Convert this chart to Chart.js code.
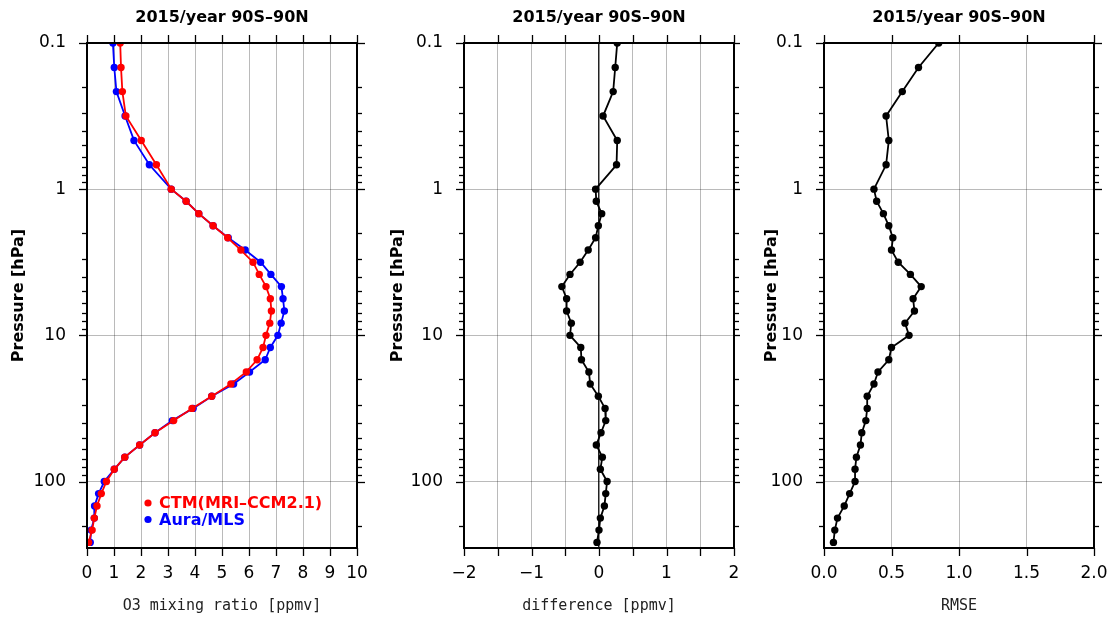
<!DOCTYPE html>
<html><head><meta charset="utf-8">
<script src="https://cdn.jsdelivr.net/npm/chart.js@4.4.1/dist/chart.umd.min.js"></script>
<style>
html,body{margin:0;padding:0;background:#fff;}
#wrap{position:relative;width:1112px;height:617px;overflow:hidden;background:#fff}
.pane{position:absolute;top:0;height:617px}
</style></head><body>
<div id="wrap">
<div class="pane" style="left:0;width:370px"><canvas id="c1"></canvas></div>
<div class="pane" style="left:370px;width:370px"><canvas id="c2"></canvas></div>
<div class="pane" style="left:740px;width:372px"><canvas id="c3"></canvas></div>
</div>
<script>
// ---- data ----
const pressure = [0.1,0.147,0.215,0.316,0.464,0.681,1,1.21,1.47,1.78,2.15,2.61,3.16,3.83,4.64,5.62,6.81,8.25,10,12.1,14.7,17.8,21.5,26.1,31.6,38.3,46.4,56.2,68.1,82.5,100,121,147,178,215,261];
const ctm = [1.23,1.26,1.31,1.44,2.01,2.57,3.12,3.67,4.14,4.67,5.21,5.70,6.15,6.38,6.63,6.79,6.83,6.77,6.63,6.52,6.30,5.90,5.33,4.62,3.89,3.21,2.52,1.95,1.40,1.01,0.72,0.53,0.37,0.27,0.19,0.06];
const mls = [0.96,1.01,1.09,1.41,1.74,2.31,3.12,3.67,4.14,4.67,5.23,5.86,6.43,6.81,7.20,7.26,7.31,7.19,7.07,6.79,6.60,6.02,5.43,4.62,3.93,3.16,2.52,1.95,1.40,1.01,0.64,0.43,0.28,0.27,0.15,0.12];
const diff = [0.27,0.24,0.21,0.06,0.27,0.26,-0.05,-0.04,0.04,-0.01,-0.05,-0.16,-0.28,-0.43,-0.55,-0.48,-0.48,-0.41,-0.43,-0.27,-0.26,-0.15,-0.13,-0.01,0.09,0.10,0.03,-0.04,0.05,0.02,0.12,0.10,0.08,0.02,0.00,-0.03];
const rmse = [0.85,0.70,0.58,0.46,0.48,0.46,0.37,0.39,0.44,0.48,0.51,0.50,0.55,0.64,0.72,0.66,0.67,0.60,0.63,0.50,0.48,0.40,0.37,0.32,0.32,0.31,0.28,0.27,0.24,0.23,0.23,0.19,0.15,0.10,0.08,0.07];
const yTicks = [0.1, 1, 10, 100];
const yRange = [0.1, 285];
const panelTitle = '2015/year 90S\u201390N';
const seriesLabels = ['CTM(MRI\u2013CCM2.1)', 'Aura/MLS', 'difference', 'RMSE'];
const xTitles = ['O3 mixing ratio [ppmv]', 'difference [ppmv]', 'RMSE'];
const yTitle = 'Pressure [hPa]';
const x1Ticks = {min:0, max:10, step:1};
const x2Ticks = {min:-2, max:2, step:0.5};
const x3Ticks = {min:0, max:2, step:0.5};

const pts = (vals) => vals.map((v, i) => ({x: v, y: pressure[i]}));

// ---- frame / ticks / title / legend plugin ----
const framePlugin = {
  id: 'frame',
  afterDraw(chart, args, o) {
    const {ctx, chartArea: a, scales: {x, y}} = chart;
    ctx.save();
    ctx.strokeStyle = '#000';
    ctx.lineWidth = 1.3;
    const seg = (x1, y1, x2, y2) => { ctx.beginPath(); ctx.moveTo(x1, y1); ctx.lineTo(x2, y2); ctx.stroke(); };
    for (let v = o.xMin; v <= o.xMax + 1e-9; v += o.xStep) {
      const px = Math.round(x.getPixelForValue(v)) + 0.5;
      seg(px, a.top - 8, px, a.top);
      seg(px, a.bottom, px, a.bottom + 8);
    }
    for (const d of yTicks) {
      for (let k = 1; k <= 9; k++) {
        const v = d * k;
        if (v < yRange[0] - 1e-12 || v > yRange[1]) continue;
        const py = Math.round(y.getPixelForValue(v)) + 0.5;
        const len = k === 1 ? 8 : 5;
        seg(a.left - len, py, a.left, py);
        seg(a.right, py, a.right + len, py);
      }
    }
    ctx.lineWidth = 2;
    ctx.strokeRect(Math.round(a.left), Math.round(a.top), Math.round(a.right - a.left), Math.round(a.bottom - a.top));
    ctx.fillStyle = '#000';
    ctx.font = 'bold 16px "DejaVu Sans"';
    ctx.textAlign = 'center';
    ctx.textBaseline = 'middle';
    ctx.fillText(o.title, (a.left + a.right) / 2, a.top - 25);
    if (o.legend) {
      ctx.textAlign = 'left';
      ctx.font = 'bold 16px "DejaVu Sans"';
      chart.data.datasets.forEach((ds, i) => {
        const ly = a.bottom - 45 + i * 16.5;
        ctx.fillStyle = ds.borderColor;
        ctx.beginPath(); ctx.arc(a.left + 61, ly, 3.6, 0, Math.PI * 2); ctx.fill();
        ctx.fillText(ds.label, a.left + 72, ly + 1);
      });
    }
    ctx.restore();
  }
};

const tickFont = {family: 'DejaVu Sans', size: 17};
const gridGray = 'rgba(0,0,0,0.27)';

function makeChart(id, datasets, xt, xTitle, yWidth, padRight, yTitlePad, fmt, zeroLine, legend) {
  return new Chart(document.getElementById(id), {
    type: 'scatter',
    data: {datasets},
    options: {
      responsive: true, maintainAspectRatio: false, animation: false,
      layout: {padding: {left: 0, right: padRight, top: 43, bottom: 0}},
      plugins: {
        legend: {display: false}, tooltip: {enabled: false},
        frame: {xMin: xt.min, xMax: xt.max, xStep: xt.step, title: panelTitle, legend}
      },
      scales: {
        x: {
          type: 'linear', min: xt.min, max: xt.max,
          afterFit: s => { s.height = 69; s.paddingLeft = 0; s.paddingRight = 0; },
          ticks: {stepSize: xt.step, autoSkip: false, maxRotation: 0, minRotation: 0,
                  font: tickFont, color: '#000', padding: 15, callback: fmt},
          grid: {drawTicks: false,
                 color: c => (zeroLine && c.tick && c.tick.value === 0) ? '#222' : gridGray,
                 lineWidth: c => (zeroLine && c.tick && c.tick.value === 0) ? 1.5 : 1},
          border: {display: false},
          title: {display: true, text: xTitle, color: '#222',
                  font: {family: 'DejaVu Sans Mono', size: 15}, padding: {top: 0, bottom: 2}}
        },
        y: {
          type: 'logarithmic', reverse: true, min: yRange[0], max: yRange[1],
          afterBuildTicks: s => { s.ticks = yTicks.map(v => ({value: v})); },
          afterFit: s => { s.width = yWidth; s.paddingTop = 0; s.paddingBottom = 0; },
          ticks: {font: tickFont, color: '#000', padding: 21, callback: v => String(v)},
          grid: {drawTicks: false, color: gridGray, lineWidth: 1},
          border: {display: false},
          title: {display: true, text: yTitle, color: '#000',
                  font: {family: 'DejaVu Sans', weight: 'bold', size: 16}, padding: {top: yTitlePad, bottom: 0}}
        }
      }
    },
    plugins: [framePlugin]
  });
}

const lineDs = (label, vals, color) => ({
  label, data: pts(vals), showLine: true, clip: 0,
  borderColor: color, backgroundColor: color,
  borderWidth: 1.8, pointRadius: 3.7, pointBorderWidth: 0, pointHoverRadius: 3.7
});

makeChart('c1',
  [lineDs(seriesLabels[0], ctm, '#ff0000'), lineDs(seriesLabels[1], mls, '#0000ff')],
  x1Ticks, xTitles[0], 87, 13, 9, v => String(v), false, true);

makeChart('c2',
  [lineDs(seriesLabels[2], diff, '#000000')],
  x2Ticks, xTitles[1], 94, 6, 18, v => (Math.abs(v - Math.round(v)) < 1e-9 ? (v < 0 ? '\u2212' + Math.abs(v) : String(v)) : ''), true, false);

makeChart('c3',
  [lineDs(seriesLabels[3], rmse, '#000000')],
  x3Ticks, xTitles[2], 84, 18, 22, v => Number(v).toFixed(1), false, false);
</script>
</body></html>
